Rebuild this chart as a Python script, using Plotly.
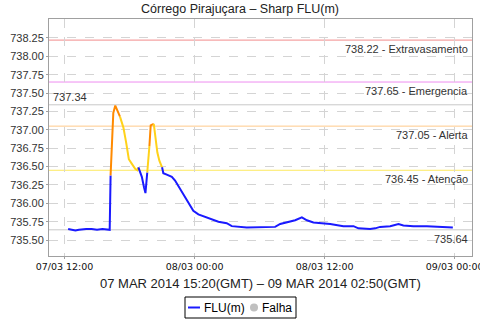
import plotly.graph_objects as go

# ---- data ----
times = [
    "2014-03-07 12:20", "2014-03-07 12:40", "2014-03-07 13:00", "2014-03-07 13:20",
    "2014-03-07 13:40", "2014-03-07 14:00", "2014-03-07 14:30", "2014-03-07 15:00",
    "2014-03-07 15:30", "2014-03-07 16:00", "2014-03-07 16:10", "2014-03-07 16:15",
    "2014-03-07 16:30", "2014-03-07 16:41", "2014-03-07 16:52", "2014-03-07 17:07",
    "2014-03-07 17:26", "2014-03-07 17:41", "2014-03-07 17:56", "2014-03-07 18:12",
    "2014-03-07 18:31", "2014-03-07 18:43", "2014-03-07 18:49", "2014-03-07 19:08",
    "2014-03-07 19:20", "2014-03-07 19:28", "2014-03-07 19:38", "2014-03-07 19:50",
    "2014-03-07 19:57", "2014-03-07 20:05", "2014-03-07 20:14", "2014-03-07 20:21",
    "2014-03-07 20:34", "2014-03-07 20:45", "2014-03-07 21:00", "2014-03-07 21:07",
    "2014-03-07 21:26", "2014-03-07 21:54", "2014-03-07 22:12", "2014-03-07 22:30",
    "2014-03-07 22:49", "2014-03-07 23:13", "2014-03-07 23:35", "2014-03-07 23:53",
    "2014-03-08 00:21", "2014-03-08 00:58", "2014-03-08 01:35", "2014-03-08 02:12",
    "2014-03-08 02:58", "2014-03-08 03:26", "2014-03-08 04:49", "2014-03-08 06:03",
    "2014-03-08 07:26", "2014-03-08 07:54", "2014-03-08 08:31", "2014-03-08 09:17",
    "2014-03-08 09:54", "2014-03-08 10:22", "2014-03-08 10:58", "2014-03-08 11:45",
    "2014-03-08 12:31", "2014-03-08 13:44", "2014-03-08 14:40", "2014-03-08 15:07",
    "2014-03-08 16:12", "2014-03-08 16:40", "2014-03-08 17:07", "2014-03-08 18:03",
    "2014-03-08 18:49", "2014-03-08 19:16", "2014-03-08 20:12", "2014-03-08 21:26",
    "2014-03-08 22:21", "2014-03-08 23:44", "2014-03-08 23:50",
]
levels = [
    735.65, 735.64, 735.63, 735.64,
    735.65, 735.65, 735.65, 735.64,
    735.65, 735.64, 735.64, 736.38,
    737.23, 737.33, 737.26, 737.18,
    737.03, 736.83, 736.60, 736.54,
    736.47, 736.45, 736.49, 736.36,
    736.22, 736.14, 736.42, 736.78,
    737.06, 737.07, 737.08, 736.96,
    736.69, 736.58, 736.49, 736.41,
    736.39, 736.36, 736.31, 736.24,
    736.15, 736.06, 735.98, 735.90,
    735.85, 735.82, 735.78, 735.75,
    735.73, 735.69, 735.67, 735.67,
    735.68, 735.72, 735.74, 735.77,
    735.81, 735.77, 735.74, 735.73,
    735.72, 735.69, 735.69, 735.66,
    735.65, 735.66, 735.68, 735.69,
    735.72, 735.70, 735.69, 735.69,
    735.68, 735.67, 735.67,
]

threshold_values = [738.22, 737.65, 737.34, 737.05, 736.45, 735.64]
threshold_names = ["Extravasamento", "Emergencia", "", "Alerta", "Atenção", ""]
threshold_colors = ["#f28b8b", "#ee8ef0", "#c8c8c8", "#ffc98a", "#fde95e", "#c8c8c8"]

y_ticks = [735.5 + 0.25 * i for i in range(12)]
x_ticks = ["2014-03-07 12:00", "2014-03-08 00:00", "2014-03-08 12:00", "2014-03-09 00:00"]
x_tick_labels = ["07/03 12:00", "08/03 00:00", "08/03 12:00", "09/03 00:00"]

title = "Córrego Pirajuçara – Sharp FLU(m)"
x_title = "07 MAR 2014 15:20(GMT) – 09 MAR 2014 02:50(GMT)"

# ---- colouring by level ----
def level_color(v):
    if v >= 737.05:
        return "#ff8a00"
    if v >= 736.45:
        return "#ffd21a"
    return "#1a1aff"

fig = go.Figure()

# group consecutive segments by colour of segment end point
segs = []
for i in range(1, len(levels)):
    c = level_color(levels[i])
    if segs and segs[-1][0] == c and segs[-1][2] == i - 1:
        segs[-1][2] = i
    else:
        segs.append([c, i - 1, i])

for c, a, b in segs:
    fig.add_trace(go.Scatter(
        x=times[a:b + 1], y=levels[a:b + 1], mode="lines",
        line=dict(color=c, width=2), showlegend=False, hoverinfo="skip",
    ))

FONT = "Liberation Sans"

# threshold lines
for v, name, col in zip(threshold_values, threshold_names, threshold_colors):
    fig.add_shape(type="line", xref="paper", yref="y", x0=0, x1=1, y0=v, y1=v,
                  line=dict(color=col, width=1), layer="below")
    if name:
        fig.add_annotation(xref="paper", yref="y", x=1, y=v, xanchor="right",
                           yanchor="top", xshift=-2, yshift=-1, showarrow=False,
                           text=f"{v:.2f} - {name}",
                           font=dict(family=FONT, size=11, color="#333333"))

# special labels
fig.add_annotation(xref="paper", yref="y", x=0, y=737.34, xanchor="left",
                   yanchor="bottom", xshift=2, yshift=0, showarrow=False,
                   text="737.34", font=dict(family=FONT, size=11, color="#333333"))
fig.add_annotation(xref="paper", yref="y", x=1, y=735.64, xanchor="right",
                   yanchor="top", xshift=-2, yshift=-1, showarrow=False,
                   text="735.64", font=dict(family=FONT, size=11, color="#333333"))

# x axis title
fig.add_annotation(xref="paper", yref="paper", x=0.5, y=-0.114, xanchor="center",
                   yanchor="middle", showarrow=False, text=x_title,
                   font=dict(family=FONT, size=13, color="#222222"))

# manual legend
def px_x(p):
    return (p - 49) / 423.0

def px_y(p):
    return (256 - p) / 237.0

fig.add_shape(type="rect", xref="paper", yref="paper",
              x0=px_x(185), x1=px_x(296), y0=px_y(297), y1=px_y(318),
              line=dict(color="#000000", width=1), fillcolor="white")
fig.add_shape(type="line", xref="paper", yref="paper",
              x0=px_x(188), x1=px_x(200), y0=px_y(307.5), y1=px_y(307.5),
              line=dict(color="#1a1aff", width=2))
fig.add_shape(type="circle", xref="paper", yref="paper",
              x0=px_x(250), x1=px_x(258), y0=px_y(303.5), y1=px_y(311.5),
              line=dict(color="#c0c0c0", width=0), fillcolor="#c0c0c0")
fig.add_annotation(xref="paper", yref="paper", x=px_x(202), y=px_y(307.5),
                   xanchor="left", yanchor="middle", showarrow=False, text="FLU(m)",
                   font=dict(family=FONT, size=12, color="#000000"))
fig.add_annotation(xref="paper", yref="paper", x=px_x(260), y=px_y(307.5),
                   xanchor="left", yanchor="middle", showarrow=False, text="Falha",
                   font=dict(family=FONT, size=12, color="#000000"))

fig.update_layout(
    width=480, height=320,
    margin=dict(l=49, r=8, t=19, b=64, autoexpand=False),
    paper_bgcolor="white", plot_bgcolor="white",
    showlegend=False,
    title=dict(text=title, x=0.5, xanchor="center", y=1 - 8.5 / 320, yanchor="middle",
               font=dict(family=FONT, size=12.5, color="#222222")),
    xaxis=dict(
        type="date", range=["2014-03-07 10:34", "2014-03-09 01:36"],
        tickvals=x_ticks, ticktext=x_tick_labels,
        tickfont=dict(family="DejaVu Sans", size=9.5, color="#111111"),
        ticklabeloverflow="allow", automargin=False,
        showgrid=True, gridcolor="#d4d4d4", griddash="dash", gridwidth=1,
        showline=True, linecolor="#a0a0a0", linewidth=1, mirror=True,
        ticks="outside", ticklen=2, tickcolor="#a0a0a0", zeroline=False,
    ),
    yaxis=dict(
        range=[735.284, 738.507], tickvals=y_ticks,
        ticktext=[f"{t:.2f}" for t in y_ticks],
        tickfont=dict(family=FONT, size=11, color="#333333"),
        automargin=False,
        showgrid=True, gridcolor="#d4d4d4", griddash="dash", gridwidth=1,
        showline=True, linecolor="#a0a0a0", linewidth=1, mirror=True,
        ticks="outside", ticklen=2, tickcolor="#a0a0a0", zeroline=False,
    ),
)

fig.write_html("out.html")
